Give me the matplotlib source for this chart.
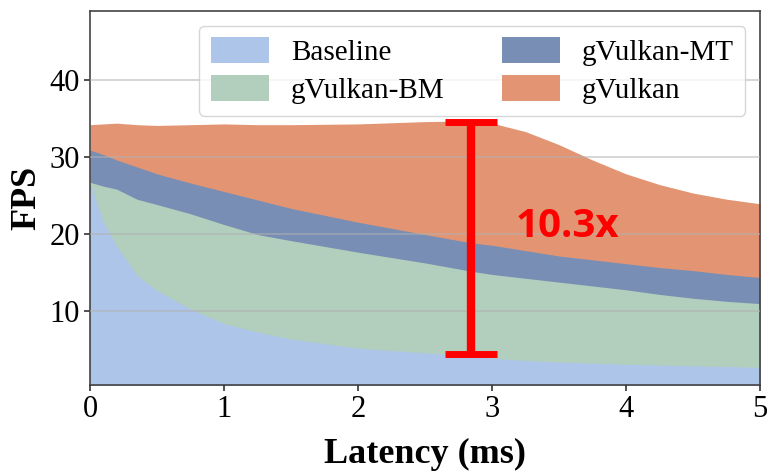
import matplotlib
matplotlib.use("Agg")
import matplotlib.pyplot as plt
import numpy as np

# latency (ms) and FPS
latency = [0, 0.1, 0.2, 0.35, 0.5, 0.75, 1.0, 1.25, 1.5, 2.0, 2.5,
           2.85, 3.0, 3.25, 3.5, 3.75, 4.0, 4.25, 4.5, 4.75, 5.0]
fps_baseline = [26.7, 21.5, 18.4, 14.6, 12.6, 10.2, 8.3, 7.2, 6.3, 5.1, 4.5,
                4.0, 3.8, 3.5, 3.3, 3.15, 3.0, 2.9, 2.8, 2.7, 2.6]
fps_bm = [26.7, 26.2, 25.8, 24.5, 23.8, 22.6, 21.2, 19.9, 19.1, 17.6, 16.2,
          15.1, 14.7, 14.2, 13.7, 13.2, 12.7, 12.1, 11.6, 11.2, 10.9]
fps_mt = [30.9, 30.3, 29.6, 28.7, 27.8, 26.6, 25.5, 24.4, 23.3, 21.5, 19.9,
          18.8, 18.5, 17.8, 17.1, 16.6, 16.1, 15.6, 15.2, 14.7, 14.3]
fps_gvulkan = [34.2, 34.3, 34.4, 34.2, 34.1, 34.2, 34.3, 34.2, 34.2, 34.3, 34.6,
               34.7, 34.4, 33.3, 31.6, 29.6, 27.8, 26.4, 25.3, 24.5, 23.9]

labels = ["Baseline", "gVulkan-BM", "gVulkan-MT", "gVulkan"]
colors = ["#aec5ea", "#b2cebc", "#788eb4", "#e39473"]

# speedup annotation
speedup_x = 2.84
speedup_low = 4.3
speedup_high = 34.6
speedup_text = "10.3x"

plt.rcParams["font.family"] = ["Liberation Serif", "DejaVu Serif"]

fig = plt.figure(figsize=(7.67, 4.73), dpi=100)
ax = fig.add_axes([0.1173, 0.186, 0.8736, 0.7907])

series = [fps_baseline, fps_bm, fps_mt, fps_gvulkan]
handles = [None] * 4
# draw from the top curve down so lower layers sit in front
for i in [3, 2, 1, 0]:
    handles[i] = ax.fill_between(latency, 0, series[i], color=colors[i],
                                 linewidth=0, label=labels[i], zorder=1)

ax.yaxis.grid(True, color="#b0b0b0", alpha=0.6, linewidth=1.2, zorder=2)
ax.set_axisbelow(False)

mid = (speedup_low + speedup_high) / 2
half = (speedup_high - speedup_low) / 2
ax.errorbar([speedup_x], [mid], yerr=[half], fmt="none", ecolor="red",
            elinewidth=6, capsize=19, capthick=5, zorder=5)
ax.text(3.56, 20.9, speedup_text, color="red", fontsize=29, fontweight="bold",
        family=["Open Sans", "DejaVu Sans"], ha="center", va="center", zorder=6)

ax.set_xlim(0, 5)
ax.set_ylim(0.3, 49)
ax.set_xticks([0, 1, 2, 3, 4, 5])
ax.set_yticks([10, 20, 30, 40])
ax.tick_params(labelsize=22, direction="out", length=4, width=1.2, color="#333333")
for s in ax.spines.values():
    s.set_color("#444444")
    s.set_linewidth(1.2)

ax.set_xlabel("Latency (ms)", fontsize=26, fontweight="bold", labelpad=10)
ax.set_ylabel("FPS", fontsize=26, fontweight="bold", labelpad=4)

ax.legend(handles, labels, ncol=2, loc="upper right", fontsize=21,
          handlelength=2.0, handleheight=1.0, handletextpad=0.75,
          columnspacing=1.95, labelspacing=0.3, borderaxespad=0.5,
          framealpha=0.8)

fig.savefig("out.png", dpi=100)
